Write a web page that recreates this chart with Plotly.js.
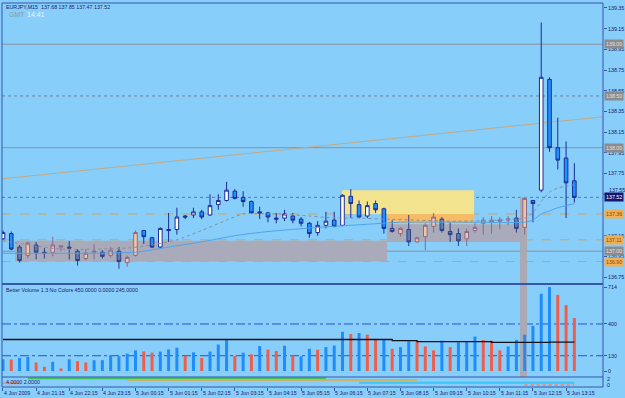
<!DOCTYPE html>
<html>
<head>
<meta charset="utf-8">
<script src="https://cdn.plot.ly/plotly-3.0.1.min.js"></script>
<style>
  html, body { margin: 0; padding: 0; background: #87CEFA; }
  #chart { width: 625px; height: 398px; }
</style>
</head>
<body>
<div id="chart"></div>
<script>
// EURJPY M15, one entry per bar starting 4 Jun 2009 20:15
const barOpen  = [137.12,137.17,137.04,136.96,137.06,136.99,136.99,137.04,137.04,137.00,
                  136.93,136.99,136.99,136.96,137.00,136.89,136.96,137.20,137.13,137.04,
                  137.21,137.21,137.34,137.35,137.38,137.35,137.45,137.49,137.58,137.52,
                  137.48,137.38,137.37,137.32,137.32,137.34,137.31,137.27,137.18,137.25,
                  137.30,137.25,137.53,137.45,137.34,137.46,137.41,137.22,137.17,137.21,
                  137.09,137.14,137.24,137.31,137.19,137.17,137.12,137.20,137.27,137.28,
                  137.29,137.30,137.32,137.23,137.49,137.59,138.66,138.00,137.90,137.68];
const barHigh  = [137.20,137.19,137.06,137.09,137.09,137.03,137.14,137.05,137.10,137.02,
                  137.02,137.07,137.01,137.04,137.04,136.96,137.20,137.20,137.14,137.23,
                  137.37,137.42,137.35,137.42,137.40,137.55,137.55,137.67,137.60,137.58,
                  137.49,137.43,137.38,137.37,137.40,137.37,137.33,137.28,137.29,137.38,
                  137.38,137.55,137.60,137.49,137.48,137.49,137.42,137.30,137.23,137.35,
                  137.14,137.27,137.37,137.33,137.28,137.22,137.22,137.27,137.33,137.34,
                  137.33,137.34,137.40,137.52,137.49,139.21,138.68,138.29,138.06,137.85];
const barLow   = [137.11,137.01,136.89,136.93,136.92,136.93,136.95,137.00,136.92,136.86,
                  136.91,136.92,136.93,136.94,136.83,136.85,136.95,137.07,137.03,137.03,
                  137.09,137.16,137.31,137.32,137.31,137.34,137.40,137.48,137.50,137.43,
                  137.36,137.31,137.28,137.27,137.29,137.27,137.24,137.13,137.15,137.22,
                  137.23,137.24,137.32,137.32,137.32,137.37,137.17,137.18,137.14,137.05,
                  137.08,137.01,137.18,137.18,137.09,137.05,137.05,137.18,137.16,137.17,
                  137.21,137.25,137.18,137.16,137.28,137.57,137.96,137.79,137.32,137.47];
const barClose = [137.18,137.02,136.91,137.08,136.99,136.98,137.06,137.05,137.03,136.91,
                  136.98,137.00,136.95,137.01,136.90,136.94,137.18,137.14,137.04,137.22,
                  137.20,137.33,137.33,137.38,137.33,137.44,137.49,137.59,137.51,137.48,
                  137.37,137.37,137.33,137.31,137.36,137.30,137.27,137.17,137.25,137.29,
                  137.24,137.54,137.46,137.33,137.44,137.40,137.22,137.19,137.22,137.09,
                  137.13,137.25,137.33,137.20,137.16,137.10,137.19,137.23,137.30,137.30,
                  137.30,137.31,137.22,137.51,137.46,138.68,138.00,137.88,137.66,137.52];

// bars sitting inside the grey zones are painted with the shaded palette
const shadedBars = [2,3,4,5,6,7,8,9,10,11,12,13,14,15,16,
                    47,48,49,50,51,52,53,54,55,56,57,58,59,60,61,62,63];

// Better Volume histogram
const volume   = [100,98,111,119,72,36,78,22,100,84,
                  72,92,92,134,125,148,176,167,156,165,
                  183,198,128,159,111,165,225,269,128,156,
                  142,212,183,170,215,131,125,189,181,203,
                  217,333,315,323,309,264,273,189,203,253,
                  251,209,176,258,203,245,253,293,264,258,
                  176,209,264,309,384,657,714,648,560,450];
const volumeBlue = [1,0,1,1,0,0,1,0,1,0,
                    0,1,1,1,1,1,1,0,0,1,
                    1,1,0,1,0,1,1,1,0,1,
                    0,1,0,0,1,0,1,1,0,1,
                    1,1,0,1,0,0,1,0,1,1,
                    0,0,0,1,0,1,1,1,0,0,
                    0,1,1,1,1,1,1,0,0,0];
const volumeAvg = [268,268,268,268,268,268,268,268,268,268,
                   268,268,268,268,268,268,268,268,268,268,
                   268,268,268,268,268,268,268,268,268,268,
                   268,268,268,268,268,268,268,268,268,268,
                   268,268,268,268,268,268,268,258,258,258,
                   250,250,250,250,250,250,250,250,250,243,
                   243,243,243,243,243,243,245,245,245,245];
const volumeLevels = [400, 130];

// moving averages (read at these bars)
const maFastBars   = [0,4,7,11,15,18,21,24,27,29,33,37,40,43,46,50,55,60,62,63,64,65,66,67,68,69];
const maFastValues = [137.10,137.05,137.02,137.02,137.03,137.06,137.11,137.20,137.30,137.36,137.36,137.34,137.32,
                      137.32,137.31,137.30,137.29,137.30,137.31,137.32,137.37,137.48,137.57,137.61,137.63,137.64];
const maSlowBars   = [0,16,20,24,28,32,38,44,48,56,63,64,65,66,67,68,69];
const maSlowValues = [136.98,136.99,137.04,137.09,137.15,137.19,137.23,137.26,137.28,137.28,137.28,
                      137.30,137.36,137.39,137.42,137.44,137.46];

// trend line anchors (bar, price)
const trendBars   = [0, 69];
const trendPrices = [137.70, 138.27];

// horizontal price levels and their style
const levelPrices = [139.00, 138.50, 138.00, 137.36, 137.11, 137.00, 136.90];
const levelKinds  = ['grey', 'greyDot', 'grey', 'orange', 'orange', 'grey', 'orange'];

// bottom strip segments: [from bar, to bar, level]
const stripStart = [3, 15, 43, 63, 0];
const stripEnd   = [39, 50, 69, 69, 2];
const stripLevel = [8.7, 7, 4.2, 2, 3.8];
const stripColor = ['#3FBF5A', '#C9B36A', '#3EC4F4', '#E8907E', '#E8907E'];

// axis labels (137.55 sits next to the bid tag, so it is placed by hand)
const priceTicks = [139.35, 139.15, 138.95, 138.75, 138.55, 138.35, 138.15, 137.95, 137.75, 137.15, 136.95, 136.75];
const bidNeighbourTick = 137.55;
const timeLabelBars = [0,4,8,12,16,20,24,28,32,36,40,44,48,52,56,60,64,68];
const timeLabels = ['4 Jun 2009','4 Jun 21:15','4 Jun 22:15','4 Jun 23:15','5 Jun 00:15','5 Jun 01:15',
                    '5 Jun 02:15','5 Jun 03:15','5 Jun 04:15','5 Jun 05:15','5 Jun 06:15','5 Jun 07:15',
                    '5 Jun 08:15','5 Jun 09:15','5 Jun 10:15','5 Jun 11:15','5 Jun 12:15','5 Jun 13:15'];

// ---- geometry helpers (pixel rows of the window -> paper fractions)
const PL = 2, PR = 603, PT = 3, PB = 387;
const py = y => (PB - y) / (PB - PT);
const mainBottom = py(284), volBottom = py(377);
const XMIN = -0.12, XMAX = 72.46;

const BG = '#87CEFA';
const FRAME = '#3656AE';
const TXT = '#1C2168';
const FONT = 'Liberation Sans, Arial, sans-serif';
const SMALL = 5.3;

const last = barClose.length - 1;
const idx = barClose.map((_, i) => i);

function candles(sel, up, down) {
  const ii = idx.filter(sel);
  return {
    type: 'candlestick', xaxis: 'x', yaxis: 'y',
    x: ii, open: ii.map(i => barOpen[i]), high: ii.map(i => barHigh[i]),
    low: ii.map(i => barLow[i]), close: ii.map(i => barClose[i]),
    increasing: { line: { color: up.line, width: 1 }, fillcolor: up.fill },
    decreasing: { line: { color: down.line, width: 1 }, fillcolor: down.fill },
    whiskerwidth: 0, hoverinfo: 'skip', showlegend: false
  };
}

const traces = [
  { type: 'scatter', mode: 'lines', x: maSlowBars, y: maSlowValues, xaxis: 'x', yaxis: 'y',
    line: { color: '#4EA4EE', width: 1, shape: 'spline', smoothing: 0.6 }, hoverinfo: 'skip', showlegend: false },
  { type: 'scatter', mode: 'lines', x: maFastBars, y: maFastValues, xaxis: 'x', yaxis: 'y',
    line: { color: '#8A8C9E', width: 1, dash: 'dot', shape: 'spline', smoothing: 0.6 }, hoverinfo: 'skip', showlegend: false },
  candles(i => !shadedBars.includes(i),
          { line: '#1B2C98', fill: '#FFFFFF' }, { line: '#1B2C98', fill: '#1E90FF' }),
  candles(i => shadedBars.includes(i),
          { line: '#8A6A8C', fill: '#F7C6A0' }, { line: '#2F3F88', fill: '#5E7EAE' }),
  { type: 'bar', x: idx, y: volume, xaxis: 'x', yaxis: 'y2', width: 0.36,
    marker: { color: volumeBlue.map(b => b ? '#1E8CFA' : '#EE5E4A'), line: { width: 0 } },
    hoverinfo: 'skip', showlegend: false },
  { type: 'scatter', mode: 'lines', x: idx, y: volumeAvg, xaxis: 'x', yaxis: 'y2',
    line: { color: '#101018', width: 1.3, shape: 'hv' }, hoverinfo: 'skip', showlegend: false }
];

stripStart.forEach((s, k) => {
  traces.push({ type: 'scatter', mode: 'lines', x: [s, stripEnd[k]], y: [stripLevel[k], stripLevel[k]],
    xaxis: 'x', yaxis: 'y3', line: { color: stripColor[k], width: 2, dash: k === 3 ? 'dot' : 'solid' },
    hoverinfo: 'skip', showlegend: false });
});

// ---- objects drawn behind the bars
const shapes = [
  { type: 'rect', xref: 'x', yref: 'y', x0: 40.94, x1: 56.9, y0: 137.36, y1: 137.59,
    fillcolor: '#F2E38E', line: { width: 0 }, layer: 'below' },
  { type: 'rect', xref: 'x', yref: 'y', x0: 46.38, x1: 56.9, y0: 137.26, y1: 137.36,
    fillcolor: '#F6BB66', line: { width: 0 }, layer: 'below' },
  { type: 'rect', xref: 'x', yref: 'y', x0: 46.38, x1: 62.44, y0: 137.09, y1: 137.26,
    fillcolor: '#A9ABBA', line: { width: 0 }, layer: 'below' },
  { type: 'rect', xref: 'x', yref: 'y', x0: 1.45, x1: 46.38, y0: 136.90, y1: 137.10,
    fillcolor: '#A9ABBA', line: { width: 0 }, layer: 'below' },
  { type: 'rect', xref: 'x', yref: 'y', x0: 62.44, x1: 63.29, y0: 136.0, y1: barClose[last],
    fillcolor: '#A9AAB4', line: { width: 0 }, layer: 'below' },
  { type: 'rect', xref: 'x', yref: 'y2', x0: 62.44, x1: 63.29, y0: -60, y1: 760,
    fillcolor: '#A9AAB4', line: { width: 0 }, layer: 'below' }
];

const levelStyle = {
  grey:    { color: '#8E8E98', width: 1, dash: 'solid' },
  greyDot: { color: '#7C8096', width: 1, dash: 'dot' },
  orange:  { color: '#D9A24E', width: 1, dash: 'dash' }
};
levelPrices.forEach((p, k) => {
  shapes.push({ type: 'line', xref: 'paper', yref: 'y', x0: 0, x1: 1, y0: p, y1: p,
    line: levelStyle[levelKinds[k]], layer: 'below' });
});
// bid line at the last close
shapes.push({ type: 'line', xref: 'paper', yref: 'y', x0: 0, x1: 1, y0: barClose[last], y1: barClose[last],
  line: { color: '#6A7690', width: 1, dash: 'dot' }, layer: 'below' });

// trend ray across the whole window
const slope = (trendPrices[1] - trendPrices[0]) / (trendBars[1] - trendBars[0]);
shapes.push({ type: 'line', xref: 'x', yref: 'y',
  x0: XMIN, y0: trendPrices[0] + slope * (XMIN - trendBars[0]),
  x1: XMAX, y1: trendPrices[0] + slope * (XMAX - trendBars[0]),
  line: { color: '#C4A884', width: 1 }, layer: 'below' });

// volume level lines
volumeLevels.forEach(v => {
  shapes.push({ type: 'line', xref: 'paper', yref: 'y2', x0: 0, x1: 1, y0: v, y1: v,
    line: { color: '#2F4FD8', width: 1, dash: 'dashdot' }, layer: 'below' });
});

// window frame and pane separators
shapes.push({ type: 'rect', xref: 'paper', yref: 'paper', x0: 0, x1: 1, y0: 0, y1: 1,
  line: { color: FRAME, width: 1 }, fillcolor: 'rgba(0,0,0,0)', layer: 'above' });
shapes.push({ type: 'line', xref: 'paper', yref: 'paper', x0: 0, x1: 1, y0: mainBottom, y1: mainBottom,
  line: { color: FRAME, width: 2 }, layer: 'above' });
shapes.push({ type: 'line', xref: 'paper', yref: 'paper', x0: 0, x1: 1, y0: volBottom, y1: volBottom,
  line: { color: FRAME, width: 1 }, layer: 'above' });
// tick mark for the hand-placed price label
shapes.push({ type: 'line', xref: 'paper', yref: 'y', x0: 1, x1: 1 + 3 / (PR - PL),
  y0: bidNeighbourTick, y1: bidNeighbourTick, line: { color: FRAME, width: 1 }, layer: 'above' });

// ---- texts
const annotations = [];
const note = (text, x, y, size, color, extra) => annotations.push(Object.assign({
  text, xref: 'paper', yref: 'paper', x: (x - PL) / (PR - PL), y: py(y),
  xanchor: 'left', yanchor: 'middle', showarrow: false,
  font: { family: FONT, size, color }
}, extra || {}));

note('EURJPY,M15  ' + [barOpen[last], barHigh[last], barLow[last], barClose[last]].map(v => v.toFixed(2)).join(' '),
     4, 7, SMALL, TXT);
note('GMT', 7, 14.5, 7, '#8F96A2');
note('14:41', 25, 14.5, 7, '#EEF6FF');
note('Better Volume 1.3 No Colors ' + volume[last].toFixed(4) + ' 0.0000 ' + volumeAvg[last].toFixed(4),
     4, 290, SMALL, TXT);
note('4.0000 2.0000', 4, 381.5, SMALL, TXT);
note('2', 605, 379, SMALL, TXT);
note('0', 605, 385, SMALL, TXT);

// 137.55 label nudged up so the bid tag does not cover it
annotations.push({ text: bidNeighbourTick.toFixed(2), xref: 'paper', yref: 'y', x: 1, y: bidNeighbourTick,
  xanchor: 'left', yanchor: 'bottom', xshift: 4, yshift: -1, showarrow: false,
  font: { family: FONT, size: SMALL, color: TXT } });

timeLabelBars.forEach((b, k) => {
  annotations.push({ text: timeLabels[k], xref: 'x', yref: 'paper', x: b, y: py(392.5),
    xanchor: 'left', yanchor: 'middle', xshift: -1, showarrow: false,
    font: { family: FONT, size: SMALL, color: TXT } });
});

// price tags on the right scale
const tagStyle = {
  grey:    { bg: '#8C8C8E', fg: '#E2E2E2' },
  greyDot: { bg: '#8C8C8E', fg: '#E2E2E2' },
  orange:  { bg: '#F0AE52', fg: '#8A4A12' },
  bid:     { bg: '#16166E', fg: '#FFFFFF' }
};
const tags = levelPrices.map((p, k) => [p, levelKinds[k]]).concat([[barClose[last], 'bid']]);
tags.forEach(([p, kind]) => {
  annotations.push({ text: p.toFixed(2), xref: 'paper', yref: 'y', x: 1, y: p,
    xanchor: 'left', yanchor: 'middle', xshift: 1, showarrow: false,
    bgcolor: tagStyle[kind].bg, borderpad: 1,
    font: { family: FONT, size: SMALL, color: tagStyle[kind].fg } });
});

const axisFont = { family: FONT, size: SMALL, color: TXT };
const layout = {
  width: 625, height: 398,
  margin: { l: PL, r: 625 - PR, t: PT, b: 398 - PB, pad: 0 },
  paper_bgcolor: BG, plot_bgcolor: BG,
  showlegend: false, dragmode: false, boxgap: 0.38,
  xaxis: {
    type: 'linear', anchor: 'y3', domain: [0, 1], range: [XMIN, XMAX],
    showgrid: false, zeroline: false, showline: false,
    tickmode: 'array', tickvals: timeLabelBars, showticklabels: false,
    ticks: 'outside', ticklen: 3, tickcolor: FRAME, tickwidth: 1,
    rangeslider: { visible: false }, fixedrange: true
  },
  yaxis: {
    domain: [mainBottom, 1], range: [136.683, 139.398], side: 'right', anchor: 'x',
    showgrid: false, zeroline: false, showline: false,
    tickmode: 'array', tickvals: priceTicks, ticktext: priceTicks.map(v => v.toFixed(2)),
    ticks: 'outside', ticklen: 3, tickcolor: FRAME, tickfont: axisFont, fixedrange: true
  },
  yaxis2: {
    domain: [volBottom, mainBottom], range: [-51, 740], side: 'right', anchor: 'x',
    showgrid: false, zeroline: false, showline: false,
    tickmode: 'array', tickvals: [0, 130, 400, 714], ticktext: ['0', '130', '400', '714'],
    ticks: 'outside', ticklen: 3, tickcolor: FRAME, tickfont: axisFont, fixedrange: true
  },
  yaxis3: {
    domain: [0, volBottom], range: [0, 10], side: 'right', anchor: 'x',
    showgrid: false, zeroline: false, showline: false, showticklabels: false, ticks: '',
    fixedrange: true
  },
  shapes, annotations
};

Plotly.newPlot('chart', traces, layout, { displayModeBar: false, staticPlot: true });
</script>
</body>
</html>
